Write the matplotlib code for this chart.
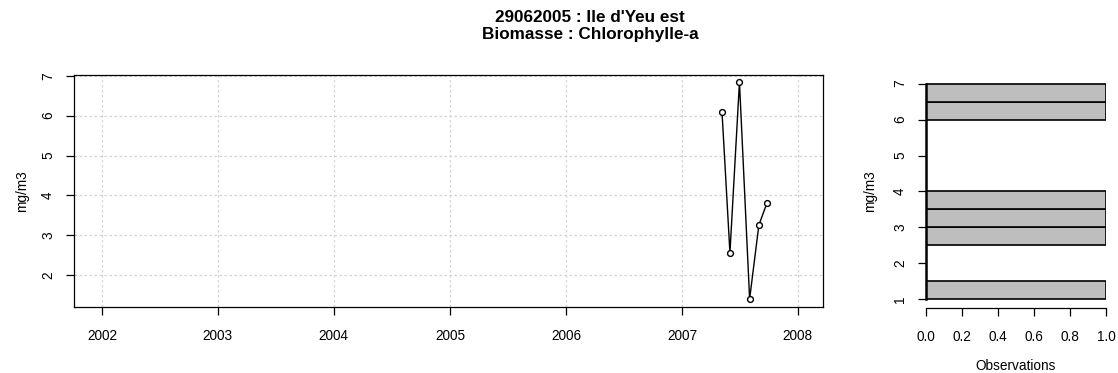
import pandas as pd
import numpy as np
import matplotlib
matplotlib.use("Agg")
import matplotlib.pyplot as plt
import matplotlib.dates as mdates

plt.rcParams['font.family'] = ['Liberation Sans', 'DejaVu Sans']

# sampling dates and chlorophyll-a values (mg/m3)
dates = ["2007-05-07", "2007-06-01", "2007-07-01", "2007-08-02", "2007-08-31", "2007-09-26"]
values = [6.10, 2.56, 6.84, 1.40, 3.25, 3.82]

# histogram bins (0.5 mg/m3 wide) and counts
bin_edges = [1.0, 1.5, 2.0, 2.5, 3.0, 3.5, 4.0, 4.5, 5.0, 5.5, 6.0, 6.5, 7.0]
counts = [1, 0, 0, 1, 1, 1, 0, 0, 0, 0, 1, 1]

year_ticks = [2002, 2003, 2004, 2005, 2006, 2007, 2008]
y_ticks = [2, 3, 4, 5, 6, 7]

title1 = "29062005 : Ile d'Yeu est"
title2 = "Biomasse : Chlorophylle-a"

fig = plt.figure(figsize=(11.18, 3.73), dpi=100)
W, H = 1118, 373

def box(x0, y0, x1, y1):
    return [x0 / W, 1 - y1 / H, (x1 - x0) / W, (y1 - y0) / H]

lw = 0.9
fs = 9.8

# --- time series panel
ax = fig.add_axes(box(74, 75, 823, 307))
d = pd.to_datetime(dates)
ax.plot(d, values, color='black', lw=1.0, marker='o', ms=4.2,
        mfc='white', mec='black', mew=1.0, zorder=3)
ax.set_xlim(pd.Timestamp("2001-10-05"), pd.Timestamp("2008-03-20"))
ax.set_ylim(1.2, 7.02)
ax.set_xticks([pd.Timestamp(f"{y}-01-01") for y in year_ticks])
ax.xaxis.set_major_formatter(mdates.DateFormatter("%Y"))
ax.set_yticks(y_ticks)
ax.set_yticklabels([str(v) for v in y_ticks], rotation=90, va='center')
ax.grid(True, color='#d3d3d3', linestyle=(0, (2, 2)), lw=0.9)
ax.set_axisbelow(True)
for s in ax.spines.values():
    s.set_linewidth(lw)
ax.tick_params(direction='out', length=5.5, width=lw, labelsize=fs, pad=8)
ax.tick_params(axis='x', pad=10)
ax.set_ylabel("mg/m3", fontsize=fs, labelpad=9)

fig.text(590 / W, 1 - 18 / H, title1, ha='center', va='center',
         fontsize=12.3, fontweight='bold')
fig.text(590 / W, 1 - 35 / H, title2, ha='center', va='center',
         fontsize=12.3, fontweight='bold')

# --- histogram panel
ax2 = fig.add_axes(box(926, 75, 1106, 308))
centers = [(a + b) / 2 for a, b in zip(bin_edges[:-1], bin_edges[1:])]
ax2.barh(centers, counts, height=0.5, left=0, color='#bebebe',
         edgecolor='black', linewidth=1.2)
ax2.set_xlim(0, 1)
ax2.set_ylim(0.76, 7.24)
ax2.set_xticks([0.0, 0.2, 0.4, 0.6, 0.8, 1.0])
ax2.set_xticklabels(["0.0", "0.2", "0.4", "0.6", "0.8", "1.0"])
ax2.set_yticks([1, 2, 3, 4, 5, 6, 7])
ax2.set_yticklabels([str(v) for v in range(1, 8)], rotation=90, va='center')
ax2.spines['top'].set_visible(False)
ax2.spines['right'].set_visible(False)
ax2.spines['left'].set_bounds(1, 7)
ax2.spines['bottom'].set_bounds(0, 1)
ax2.spines['left'].set_linewidth(1.8)
ax2.spines['bottom'].set_linewidth(lw)
ax2.tick_params(direction='out', length=5.5, width=lw, labelsize=fs, pad=8)
ax2.tick_params(axis='x', pad=10)
ax2.set_ylabel("mg/m3", fontsize=fs, labelpad=12)
ax2.set_xlabel("Observations", fontsize=fs, labelpad=11)

fig.savefig("out.png", dpi=100)
